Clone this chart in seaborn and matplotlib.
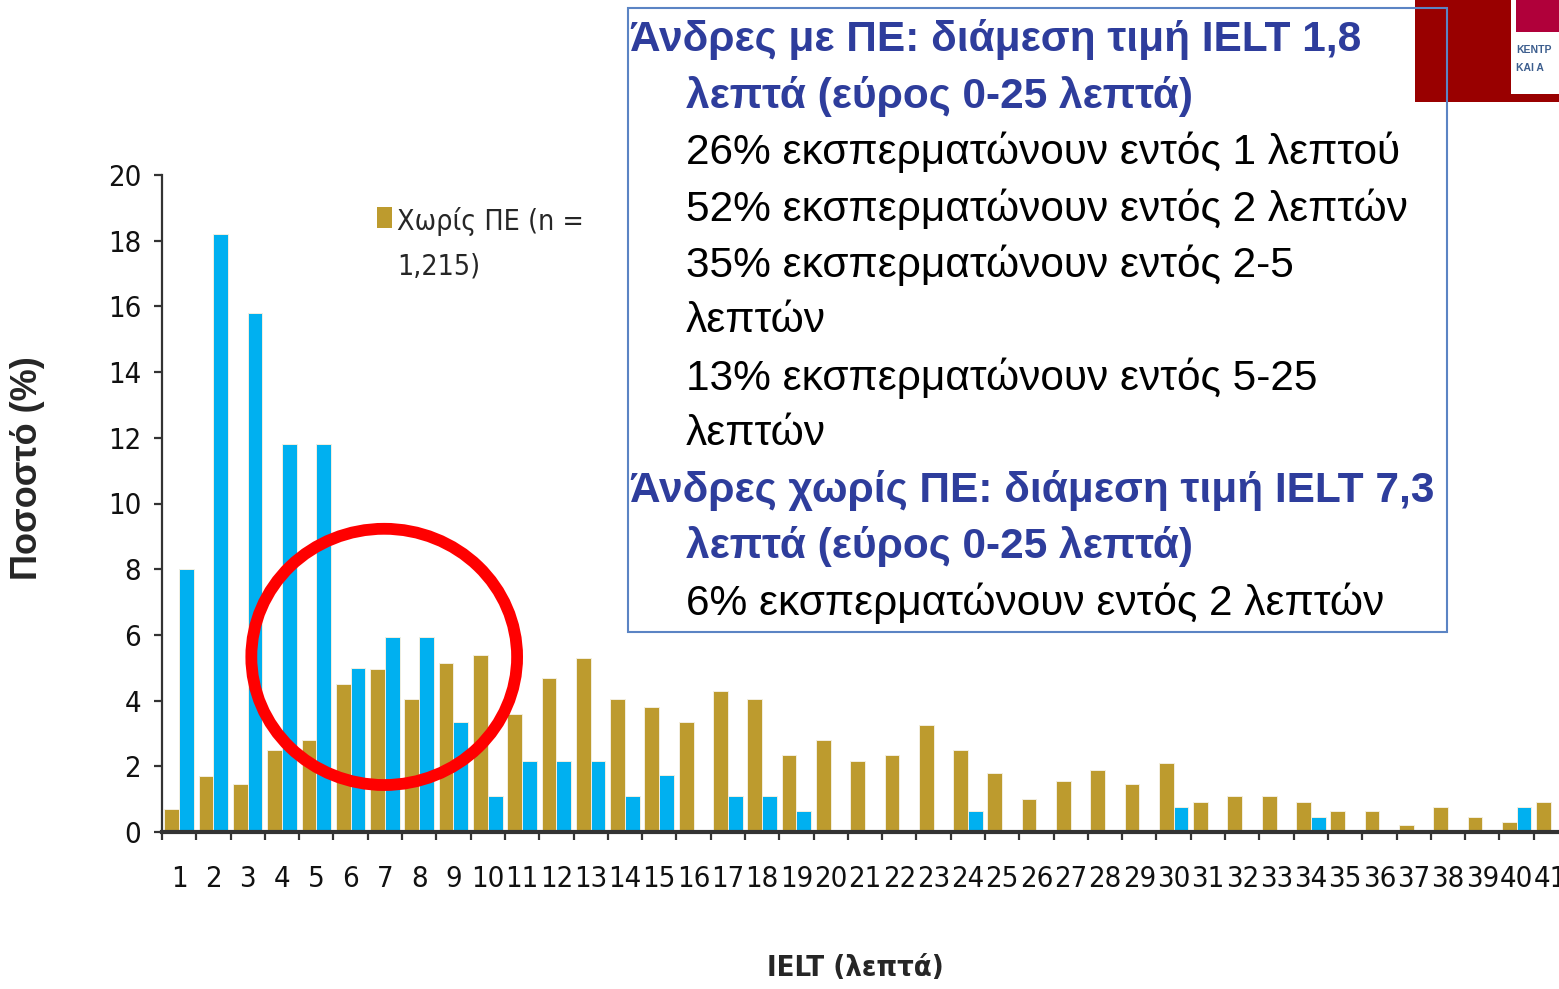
import numpy as np
import pandas as pd
import seaborn as sns
import matplotlib.pyplot as plt
from matplotlib.patches import Rectangle, Ellipse

# data
ielt = [str(i) for i in range(1, 42)]
with_pe = [8.0, 18.2, 15.8, 11.8, 11.8, 5.0, 5.95, 5.95, 3.35, 1.1,
           2.15, 2.15, 2.15, 1.1, 1.75, 0, 1.1, 1.1, 0.65, 0,
           0, 0, 0, 0.65, 0, 0, 0, 0, 0, 0.75,
           0, 0, 0, 0.45, 0, 0, 0, 0, 0, 0.75, 0]
without_pe = [0.7, 1.7, 1.45, 2.5, 2.8, 4.5, 4.95, 4.05, 5.15, 5.4,
              3.6, 4.7, 5.3, 4.05, 3.8, 3.35, 4.3, 4.05, 2.35, 2.8,
              2.15, 2.35, 3.25, 2.5, 1.8, 1.0, 1.55, 1.9, 1.45, 2.1,
              0.9, 1.1, 1.1, 0.9, 0.65, 0.65, 0.2, 0.75, 0.45, 0.3, 0.9]
groups = ["Χωρίς ΠΕ", "Με ΠΕ"]
legend_lines = ["Χωρίς ΠΕ (n =", "1,215)"]

box_lines = [
    ("Άνδρες με ΠΕ: διάμεση τιμή IELT 1,8", "b", 0),
    ("λεπτά (εύρος 0-25 λεπτά)", "b", 1),
    ("26% εκσπερματώνουν εντός 1 λεπτού", "r", 1),
    ("52% εκσπερματώνουν εντός 2 λεπτών", "r", 1),
    ("35% εκσπερματώνουν εντός 2-5", "r", 1),
    ("λεπτών", "r", 1),
    ("13% εκσπερματώνουν εντός 5-25", "r", 1),
    ("λεπτών", "r", 1),
    ("Άνδρες χωρίς ΠΕ: διάμεση τιμή IELT 7,3", "b", 0),
    ("λεπτά (εύρος 0-25 λεπτά)", "b", 1),
    ("6% εκσπερματώνουν εντός 2 λεπτών", "r", 1),
]

df = pd.DataFrame({
    "ielt": ielt * 2,
    "group": [groups[0]] * len(ielt) + [groups[1]] * len(ielt),
    "pct": without_pe + with_pe,
})

gold = "#BD9B2E"
blue = "#00B0F0"
txt_blue = "#2E3D9C"

sns.set_style("white")
plt.rcParams["font.family"] = ["Liberation Sans", "DejaVu Sans"]
narrow = dict(family="DejaVu Sans", stretch="condensed")

W, H = 1559, 989
fig = plt.figure(figsize=(W / 100, H / 100), dpi=100)


def fx(px):
    return px / W


def fy(py):
    return 1 - py / H


ax = fig.add_axes([fx(162), fy(832), 1406 / W, 657 / H])
sns.barplot(data=df, x="ielt", y="pct", hue="group", hue_order=groups,
            palette=[gold, blue], width=0.86, ax=ax, legend=False,
            edgecolor="#f3efe0", linewidth=0.7, saturation=1)

ax.set_xlim(-0.5, 40.5)
ax.set_ylim(0, 20)
ax.set_yticks(range(0, 21, 2))
ax.set_xlabel("")
ax.set_ylabel("")
sns.despine(ax=ax)
ax.spines["left"].set_color("#333333")
ax.spines["left"].set_linewidth(1.6)
ax.spines["bottom"].set_color("#333333")
ax.spines["bottom"].set_linewidth(3)
ax.set_xticks(np.arange(-0.5, 41, 1), minor=True)
ax.tick_params(axis="x", which="major", length=0, pad=24)
ax.tick_params(axis="x", which="minor", length=6, width=1.6, color="#333333", direction="out", bottom=True)
ax.tick_params(axis="y", length=6, width=1.6, color="#333333", direction="out", left=True, pad=9)
for lab in ax.get_xticklabels() + ax.get_yticklabels():
    lab.set_family("DejaVu Sans")
    lab.set_stretch("condensed")
    lab.set_fontsize(21)
    lab.set_color("#111111")

ax.add_patch(Ellipse((5.98, 5.33), 7.75, 7.8, fill=False, edgecolor="#FF0000",
                     linewidth=8.5, zorder=5, clip_on=False))

fig.text(fx(28), fy(468), "Ποσοστό (%)", rotation=90, ha="center", va="center",
         fontsize=26, fontweight="bold")
fig.text(fx(855), fy(968), "IELT (λεπτά)", ha="center", va="center",
         fontsize=21, fontweight="bold", **narrow)

# legend
fig.add_artist(Rectangle((fx(377), fy(228)), 15 / W, 21 / H, transform=fig.transFigure,
                         facecolor=gold, edgecolor="none"))
for j, line in enumerate(legend_lines):
    fig.text(fx(397), fy(222 + j * 44), line, ha="left", va="center", fontsize=20.5, **narrow)

# logo corner
fig.add_artist(Rectangle((fx(1415), fy(102)), 144 / W, 102 / H, transform=fig.transFigure,
                         facecolor="#990000", edgecolor="none"))
fig.add_artist(Rectangle((fx(1511), fy(94)), 48 / W, 94 / H, transform=fig.transFigure,
                         facecolor="white", edgecolor="none"))
fig.add_artist(Rectangle((fx(1516), fy(32)), 43 / W, 32 / H, transform=fig.transFigure,
                         facecolor="#B0003A", edgecolor="none"))
fig.text(fx(1516), fy(50), "ΚΕΝΤΡ", fontsize=7.5, fontweight="bold", color="#3D5E8E", va="center")
fig.text(fx(1516), fy(68), "ΚΑΙ Α", fontsize=7.5, fontweight="bold", color="#3D5E8E", va="center")

# info box
fig.add_artist(Rectangle((fx(628), fy(632)), 819 / W, 624 / H, transform=fig.transFigure,
                         facecolor="none", edgecolor="#5B84C4", linewidth=1.5, zorder=10))
for i, (line, kind, indent) in enumerate(box_lines):
    x = 630 if indent == 0 else 686
    y = 40 + i * 56.3
    if kind == "b":
        fig.text(fx(x), fy(y), line, ha="left", va="center", fontsize=30.5,
                 fontweight="bold", color=txt_blue)
    else:
        fig.text(fx(x), fy(y), line, ha="left", va="center", fontsize=30.5, color="black")

fig.savefig("out.png", dpi=100)
